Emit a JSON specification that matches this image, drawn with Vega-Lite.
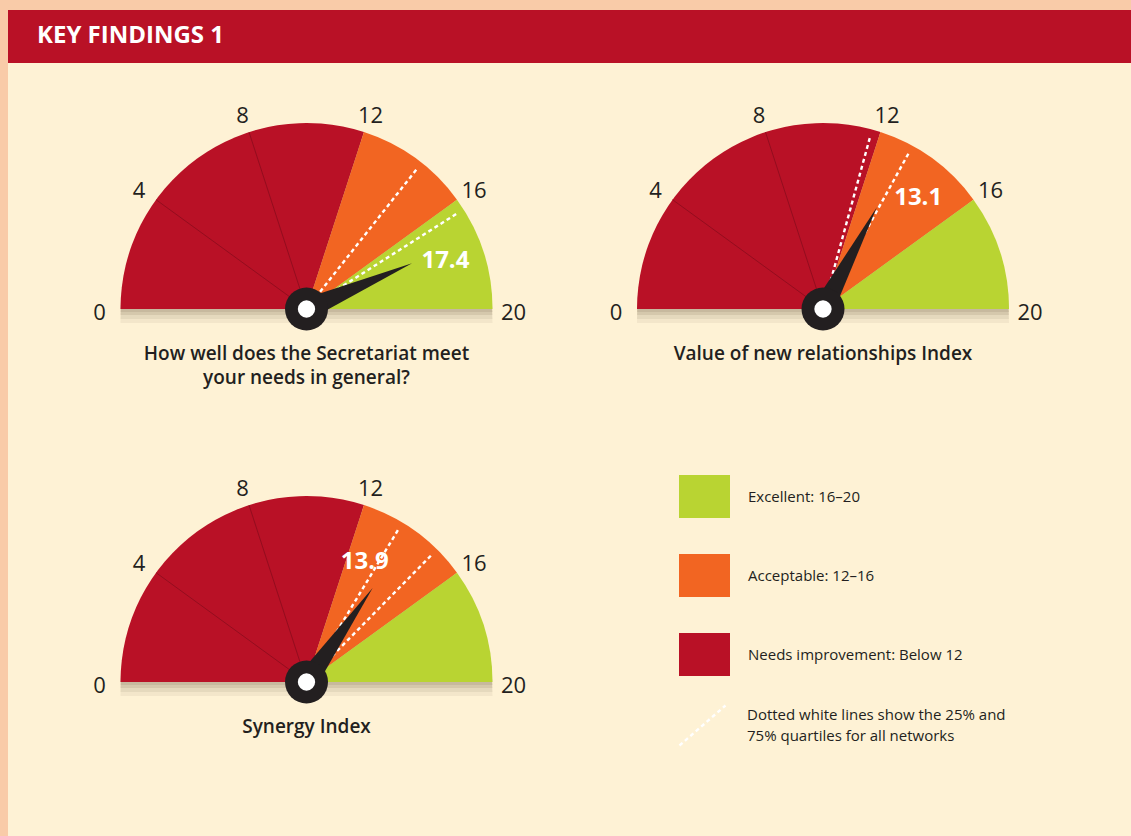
{
  "$schema": "https://vega.github.io/schema/vega-lite/v6.json",
  "background": "#F9CBA8",
  "padding": {"left": 8, "top": 10, "right": 0, "bottom": 0},
  "bounds": "flush",
  "spacing": 0,
  "config": {"font": "Open Sans", "view": {"stroke": null}, "style": {"guide-label": {"lineHeight": 21}}},
  "datasets": {
    "gauges": [
      {"id": "needs", "title": "How well does the Secretariat meet|your needs in general?", "column": "left", "row": "top", "score": 17.4, "q25": 14.25, "q75": 16.4},
      {"id": "relationships", "title": "Value of new relationships Index", "column": "right", "row": "top", "score": 13.1, "q25": 11.7, "q75": 13.2},
      {"id": "synergy", "title": "Synergy Index", "column": "left", "row": "bottom", "score": 13.9, "q25": 13.45, "q75": 14.95}
    ],
    "bands": [
      {"id": "needs", "start": 0, "end": 12, "rating": "Needs improvement: Below 12"},
      {"id": "needs", "start": 12, "end": 16, "rating": "Acceptable: 12–16"},
      {"id": "needs", "start": 16, "end": 20, "rating": "Excellent: 16–20"},
      {"id": "relationships", "start": 0, "end": 12, "rating": "Needs improvement: Below 12"},
      {"id": "relationships", "start": 12, "end": 16, "rating": "Acceptable: 12–16"},
      {"id": "relationships", "start": 16, "end": 20, "rating": "Excellent: 16–20"},
      {"id": "synergy", "start": 0, "end": 12, "rating": "Needs improvement: Below 12"},
      {"id": "synergy", "start": 12, "end": 16, "rating": "Acceptable: 12–16"},
      {"id": "synergy", "start": 16, "end": 20, "rating": "Excellent: 16–20"}
    ],
    "ticks": [
      {"id": "needs", "value": 0}, {"id": "needs", "value": 4}, {"id": "needs", "value": 8},
      {"id": "needs", "value": 12}, {"id": "needs", "value": 16}, {"id": "needs", "value": 20},
      {"id": "relationships", "value": 0}, {"id": "relationships", "value": 4}, {"id": "relationships", "value": 8},
      {"id": "relationships", "value": 12}, {"id": "relationships", "value": 16}, {"id": "relationships", "value": 20},
      {"id": "synergy", "value": 0}, {"id": "synergy", "value": 4}, {"id": "synergy", "value": 8},
      {"id": "synergy", "value": 12}, {"id": "synergy", "value": 16}, {"id": "synergy", "value": 20}
    ]
  },
  "vconcat": [
    {
      "width": 1123,
      "height": 53,
      "view": {"fill": "#B91126", "cornerRadius": 0, "stroke": null},
      "title": {"text": "KEY FINDINGS 1", "anchor": "start", "frame": "group", "orient": "top", "offset": -57, "dx": 29, "baseline": "alphabetic", "color": "#FFFFFF", "fontSize": 24, "fontWeight": "bold", "font": "Open Sans"},
      "data": {"values": []},
      "mark": "text"
    },
    {
      "width": 1123,
      "height": 773,
      "view": {"fill": "#FEF2D5", "stroke": null},
      "encoding": {
        "x": {"field": "column", "type": "nominal", "scale": {"type": "point", "domain": ["left", "right"], "range": [298.5, 815], "padding": 0}, "axis": null},
        "y": {"field": "row", "type": "nominal", "scale": {"type": "point", "domain": ["top", "bottom"], "range": [246, 619], "padding": 0}, "axis": null}
      },
      "layer": [
        {
          "data": {"name": "gauges"},
          "mark": {"type": "arc", "radius": 186, "color": "#4A3A20", "opacity": 0.1, "yOffset": 3},
          "encoding": {"theta": {"datum": 0, "type": "quantitative", "scale": {"domain": [0, 20], "range": [-1.5707963, 1.5707963]}}, "theta2": {"datum": 20}}
        },
        {
          "data": {"name": "gauges"},
          "mark": {"type": "arc", "radius": 186, "color": "#4A3A20", "opacity": 0.1, "yOffset": 6},
          "encoding": {"theta": {"datum": 0, "type": "quantitative", "scale": {"domain": [0, 20], "range": [-1.5707963, 1.5707963]}}, "theta2": {"datum": 20}}
        },
        {
          "data": {"name": "gauges"},
          "mark": {"type": "arc", "radius": 186, "color": "#4A3A20", "opacity": 0.08, "yOffset": 10},
          "encoding": {"theta": {"datum": 0, "type": "quantitative", "scale": {"domain": [0, 20], "range": [-1.5707963, 1.5707963]}}, "theta2": {"datum": 20}}
        },
        {
          "data": {"name": "gauges"},
          "mark": {"type": "arc", "radius": 186, "color": "#4A3A20", "opacity": 0.06, "yOffset": 14},
          "encoding": {"theta": {"datum": 0, "type": "quantitative", "scale": {"domain": [0, 20], "range": [-1.5707963, 1.5707963]}}, "theta2": {"datum": 20}}
        },
        {
          "data": {"name": "bands"},
          "transform": [{"lookup": "id", "from": {"data": {"name": "gauges"}, "key": "id", "fields": ["column", "row"]}}],
          "mark": {"type": "arc", "radius": 186},
          "encoding": {
            "theta": {"field": "start", "type": "quantitative", "scale": {"domain": [0, 20], "range": [-1.5707963, 1.5707963]}},
            "theta2": {"field": "end"},
            "color": {
              "field": "rating", "type": "nominal",
              "scale": {"domain": ["Excellent: 16–20", "Acceptable: 12–16", "Needs improvement: Below 12"], "range": ["#B9D432", "#F26522", "#B91126"]},
              "legend": {
                "title": null, "orient": "none", "legendX": 671, "legendY": 461, "direction": "vertical", "padding": 0,
                "symbolType": "M-1,-0.843L1,-0.843L1,0.843L-1,0.843Z", "symbolSize": 2601, "symbolStrokeWidth": 0, "symbolOpacity": 1,
                "labelFontSize": 15, "labelFont": "Open Sans", "labelColor": "#231F20", "labelOffset": 18, "labelLimit": 400, "rowPadding": 32
              }
            }
          }
        },
        {
          "data": {"name": "ticks"},
          "transform": [
            {"filter": "datum.value == 4 || datum.value == 8"},
            {"lookup": "id", "from": {"data": {"name": "gauges"}, "key": "id", "fields": ["column", "row"]}}
          ],
          "mark": {"type": "point", "shape": "M0,0L0,-1", "size": 138384, "filled": false, "stroke": "#8E0D1E", "strokeWidth": 0.8, "opacity": 1},
          "encoding": {"angle": {"field": "value", "type": "quantitative", "scale": {"domain": [0, 20], "range": [-90, 90]}}}
        },
        {
          "data": {"name": "gauges"},
          "transform": [{"fold": ["q25", "q75"], "as": ["quartile", "level"]}],
          "mark": {"type": "point", "shape": "M0,-0.08L0,-0.975", "size": 136900, "filled": false, "strokeWidth": 2.4, "strokeDash": [4, 3.2], "opacity": 1},
          "encoding": {
            "angle": {"field": "level", "type": "quantitative", "scale": {"domain": [0, 20], "range": [-90, 90]}},
            "stroke": {
              "datum": "Dotted white lines show the 25% and|75% quartiles for all networks", "type": "nominal",
              "scale": {"range": ["#FFFFFF"]},
              "legend": {
                "title": null, "orient": "none", "legendX": 670, "legendY": 691, "padding": 0,
                "symbolType": "M-1,0.87L1,-0.87", "symbolSize": 2116, "symbolStrokeWidth": 2.4, "symbolDash": [4, 3.2],
                "labelFontSize": 15, "labelFont": "Open Sans", "labelColor": "#231F20", "labelOffset": 20, "labelLimit": 400,
                "labelBaseline": "line-bottom",
                "labelExpr": "split(datum.label, '|')"
              }
            }
          }
        },
        {
          "data": {"name": "gauges"},
          "mark": {"type": "point", "shape": "M-0.095,0.02L0,-1L0.095,0.02Z", "size": 52900, "filled": true, "color": "#231F20", "opacity": 1, "strokeWidth": 0},
          "encoding": {"angle": {"field": "score", "type": "quantitative", "scale": {"domain": [0, 20], "range": [-90, 90]}}}
        },
        {
          "data": {"name": "gauges"},
          "mark": {"type": "circle", "size": 1849, "color": "#231F20", "opacity": 1}
        },
        {
          "data": {"name": "gauges"},
          "mark": {"type": "circle", "size": 300, "color": "#FFFFFF", "opacity": 1}
        },
        {
          "data": {"name": "ticks"},
          "transform": [{"lookup": "id", "from": {"data": {"name": "gauges"}, "key": "id", "fields": ["column", "row"]}}],
          "mark": {"type": "text", "radius": 207, "fontSize": 22, "color": "#231F20", "dy": 4, "font": "Open Sans"},
          "encoding": {
            "theta": {"field": "value", "type": "quantitative", "scale": {"domain": [0, 20], "range": [-1.5707963, 1.5707963]}},
            "text": {"field": "value", "type": "quantitative"}
          }
        },
        {
          "data": {"name": "gauges"},
          "mark": {"type": "text", "lineBreak": "|", "baseline": "top", "dy": 36, "fontSize": 19, "fontWeight": 600, "lineHeight": 24, "color": "#231F20", "font": "Open Sans"},
          "encoding": {"text": {"field": "title"}}
        },
        {
          "data": {"name": "gauges"},
          "transform": [{"filter": "datum.id == 'needs'"}],
          "mark": {"type": "text", "radius": 147, "thetaOffset": 0.075, "fontSize": 24, "fontWeight": "bold", "color": "#FFFFFF", "font": "Open Sans"},
          "encoding": {
            "theta": {"field": "score", "type": "quantitative", "scale": {"domain": [0, 20], "range": [-1.5707963, 1.5707963]}},
            "text": {"field": "score", "type": "quantitative", "format": ".1f"}
          }
        },
        {
          "data": {"name": "gauges"},
          "transform": [{"filter": "datum.id == 'relationships'"}],
          "mark": {"type": "text", "radius": 146, "thetaOffset": 0.223, "fontSize": 24, "fontWeight": "bold", "color": "#FFFFFF", "font": "Open Sans"},
          "encoding": {
            "theta": {"field": "score", "type": "quantitative", "scale": {"domain": [0, 20], "range": [-1.5707963, 1.5707963]}},
            "text": {"field": "score", "type": "quantitative", "format": ".1f"}
          }
        },
        {
          "data": {"name": "gauges"},
          "transform": [{"filter": "datum.id == 'synergy'"}],
          "mark": {"type": "text", "radius": 133, "thetaOffset": -0.159, "fontSize": 24, "fontWeight": "bold", "color": "#FFFFFF", "font": "Open Sans"},
          "encoding": {
            "theta": {"field": "score", "type": "quantitative", "scale": {"domain": [0, 20], "range": [-1.5707963, 1.5707963]}},
            "text": {"field": "score", "type": "quantitative", "format": ".1f"}
          }
        }
      ]
    }
  ]
}
